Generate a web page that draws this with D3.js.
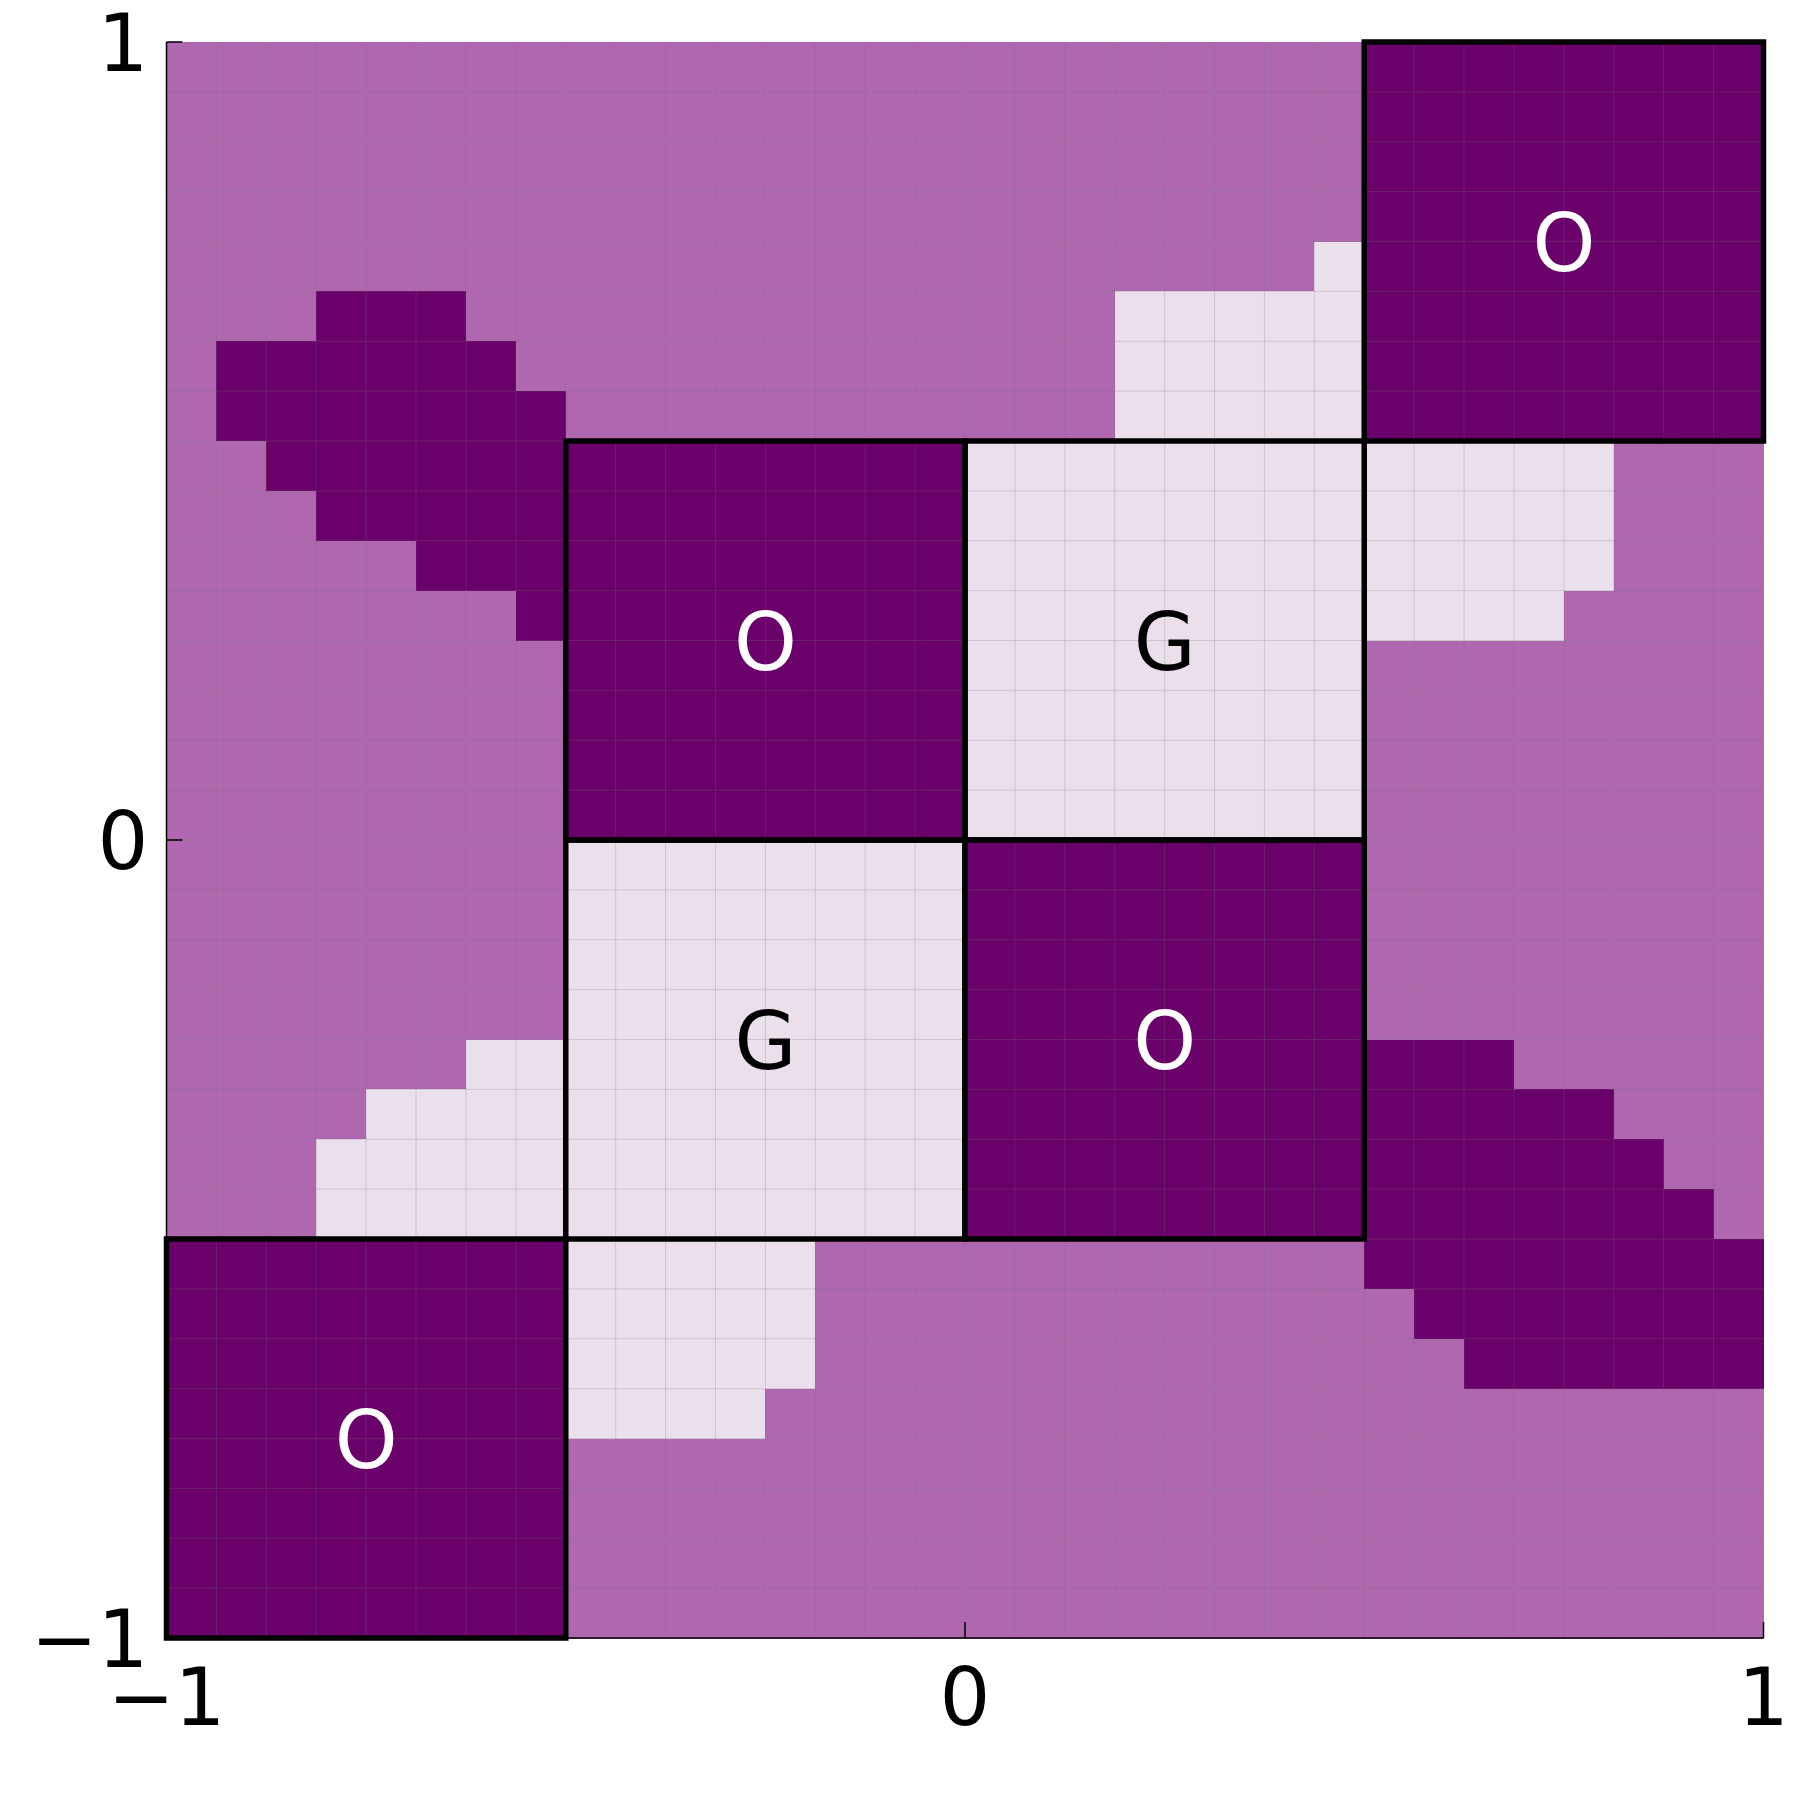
<!DOCTYPE html>
<html>
<head>
<meta charset="utf-8">
<script src="https://cdn.jsdelivr.net/npm/d3@7"></script>
<style>
  html, body { margin: 0; padding: 0; background: #ffffff; }
  svg { display: block; }
  text { font-family: "DejaVu Sans", sans-serif; }
</style>
</head>
<body>
<div id="chart"></div>
<script>
// ---- data ----
// 32 x 32 grid over [-1,1]x[-1,1]; rows from top (y=1) to bottom (y=-1)
// m = medium, d = dark, l = light
const gridRows = [
  "mmmmmmmm mmmmmmmm mmmmmmmm dddddddd",
  "mmmmmmmm mmmmmmmm mmmmmmmm dddddddd",
  "mmmmmmmm mmmmmmmm mmmmmmmm dddddddd",
  "mmmmmmmm mmmmmmmm mmmmmmmm dddddddd",
  "mmmmmmmm mmmmmmmm mmmmmmml dddddddd",
  "mmmdddmm mmmmmmmm mmmlllll dddddddd",
  "mddddddm mmmmmmmm mmmlllll dddddddd",
  "mddddddd mmmmmmmm mmmlllll dddddddd",
  "mmdddddd dddddddd llllllll lllllmmm",
  "mmmddddd dddddddd llllllll lllllmmm",
  "mmmmmddd dddddddd llllllll lllllmmm",
  "mmmmmmmd dddddddd llllllll llllmmmm",
  "mmmmmmmm dddddddd llllllll mmmmmmmm",
  "mmmmmmmm dddddddd llllllll mmmmmmmm",
  "mmmmmmmm dddddddd llllllll mmmmmmmm",
  "mmmmmmmm dddddddd llllllll mmmmmmmm",
  "mmmmmmmm llllllll dddddddd mmmmmmmm",
  "mmmmmmmm llllllll dddddddd mmmmmmmm",
  "mmmmmmmm llllllll dddddddd mmmmmmmm",
  "mmmmmmmm llllllll dddddddd mmmmmmmm",
  "mmmmmmll llllllll dddddddd dddmmmmm",
  "mmmmllll llllllll dddddddd dddddmmm",
  "mmmlllll llllllll dddddddd ddddddmm",
  "mmmlllll llllllll dddddddd dddddddm",
  "dddddddd lllllmmm mmmmmmmm dddddddd",
  "dddddddd lllllmmm mmmmmmmm mddddddd",
  "dddddddd lllllmmm mmmmmmmm mmdddddd",
  "dddddddd llllmmmm mmmmmmmm mmmmmmmm",
  "dddddddd mmmmmmmm mmmmmmmm mmmmmmmm",
  "dddddddd mmmmmmmm mmmmmmmm mmmmmmmm",
  "dddddddd mmmmmmmm mmmmmmmm mmmmmmmm",
  "dddddddd mmmmmmmm mmmmmmmm mmmmmmmm"
];
const categories = ["l", "m", "d"];
const categoryColors = ["#ecdfec", "#af67af", "#6a006a"];

// outlined blocks [x0, x1, y0, y1] and their labels
const boxX0 = [-0.5, 0, -0.5, 0, 0.5, -1];
const boxX1 = [0, 0.5, 0, 0.5, 1, -0.5];
const boxY0 = [0, 0, -0.5, -0.5, 0.5, -1];
const boxY1 = [0.5, 0.5, 0, 0, 1, -0.5];
const boxLabels = ["O", "G", "G", "O", "O", "O"];

const xTicks = [-1, 0, 1];
const yTicks = [-1, 0, 1];
const tickLabels = ["\u22121", "0", "1"];

// ---- drawing ----
(function () {
const W = 1799, H = 1799;
const pL = 166.5, pR = 1763.5, pT = 42, pB = 1638;

const svg = d3.select("#chart").append("svg")
  .attr("width", W).attr("height", H);

const x = d3.scaleLinear().domain([-1, 1]).range([pL, pR]);
const y = d3.scaleLinear().domain([-1, 1]).range([pB, pT]);
const color = d3.scaleOrdinal().domain(categories).range(categoryColors);

const rows = gridRows.map(r => r.replace(/ /g, "").split(""));
const n = rows.length;
const step = 2 / n;

const cells = [];
rows.forEach((row, j) => {
  row.forEach((c, i) => {
    cells.push({
      x0: -1 + i * step, x1: -1 + (i + 1) * step,
      y1: 1 - j * step, y0: 1 - (j + 1) * step, c
    });
  });
});

svg.append("g").selectAll("rect").data(cells).join("rect")
  .attr("x", d => x(d.x0))
  .attr("y", d => y(d.y1))
  .attr("width", d => x(d.x1) - x(d.x0) + 0.5)
  .attr("height", d => y(d.y0) - y(d.y1) + 0.5)
  .attr("fill", d => color(d.c))
  .attr("shape-rendering", "crispEdges");

// faint cell edges
const edges = d3.range(1, n).map(k => -1 + k * step);
const gl = svg.append("g").attr("stroke", "#777777").attr("stroke-opacity", 0.25).attr("stroke-width", 1);
gl.selectAll("line.v").data(edges).join("line").attr("class", "v")
  .attr("x1", d => x(d)).attr("x2", d => x(d)).attr("y1", pT).attr("y2", pB);
gl.selectAll("line.h").data(edges).join("line").attr("class", "h")
  .attr("y1", d => y(d)).attr("y2", d => y(d)).attr("x1", pL).attr("x2", pR);

// spines and ticks
const ax = svg.append("g").attr("stroke", "#000").attr("stroke-width", 1.5);
ax.append("line").attr("x1", pL).attr("x2", pL).attr("y1", pT).attr("y2", pB);
ax.append("line").attr("x1", pL).attr("x2", pR).attr("y1", pB).attr("y2", pB);
ax.selectAll("line.yt").data(yTicks).join("line").attr("class", "yt")
  .attr("x1", pL).attr("x2", pL + 16).attr("y1", d => y(d)).attr("y2", d => y(d));
ax.selectAll("line.xt").data(xTicks).join("line").attr("class", "xt")
  .attr("x1", d => x(d)).attr("x2", d => x(d)).attr("y1", pB).attr("y2", pB - 16);

// outlined blocks
const boxes = boxLabels.map((lab, i) => ({ x0: boxX0[i], x1: boxX1[i], y0: boxY0[i], y1: boxY1[i], lab }));
svg.append("g").selectAll("rect").data(boxes).join("rect")
  .attr("x", d => x(d.x0))
  .attr("y", d => y(d.y1))
  .attr("width", d => x(d.x1) - x(d.x0))
  .attr("height", d => y(d.y0) - y(d.y1))
  .attr("fill", "none")
  .attr("stroke", "#000")
  .attr("stroke-width", 5.5);

svg.append("g").selectAll("text").data(boxes).join("text")
  .attr("x", d => x((d.x0 + d.x1) / 2))
  .attr("y", d => y((d.y0 + d.y1) / 2) + 29)
  .attr("text-anchor", "middle")
  .attr("font-size", 80)
  .attr("fill", d => d.lab === "O" ? "#ffffff" : "#000000")
  .text(d => d.lab);

// tick labels
svg.append("g").selectAll("text").data(yTicks).join("text")
  .attr("x", pL - 18)
  .attr("y", d => y(d) + 29)
  .attr("text-anchor", "end")
  .attr("font-size", 80)
  .attr("fill", "#000")
  .text((d, i) => tickLabels[i]);

svg.append("g").selectAll("text").data(xTicks).join("text")
  .attr("x", d => x(d))
  .attr("y", pB + 87)
  .attr("text-anchor", "middle")
  .attr("font-size", 80)
  .attr("fill", "#000")
  .text((d, i) => tickLabels[i]);
})();
</script>
</body>
</html>
